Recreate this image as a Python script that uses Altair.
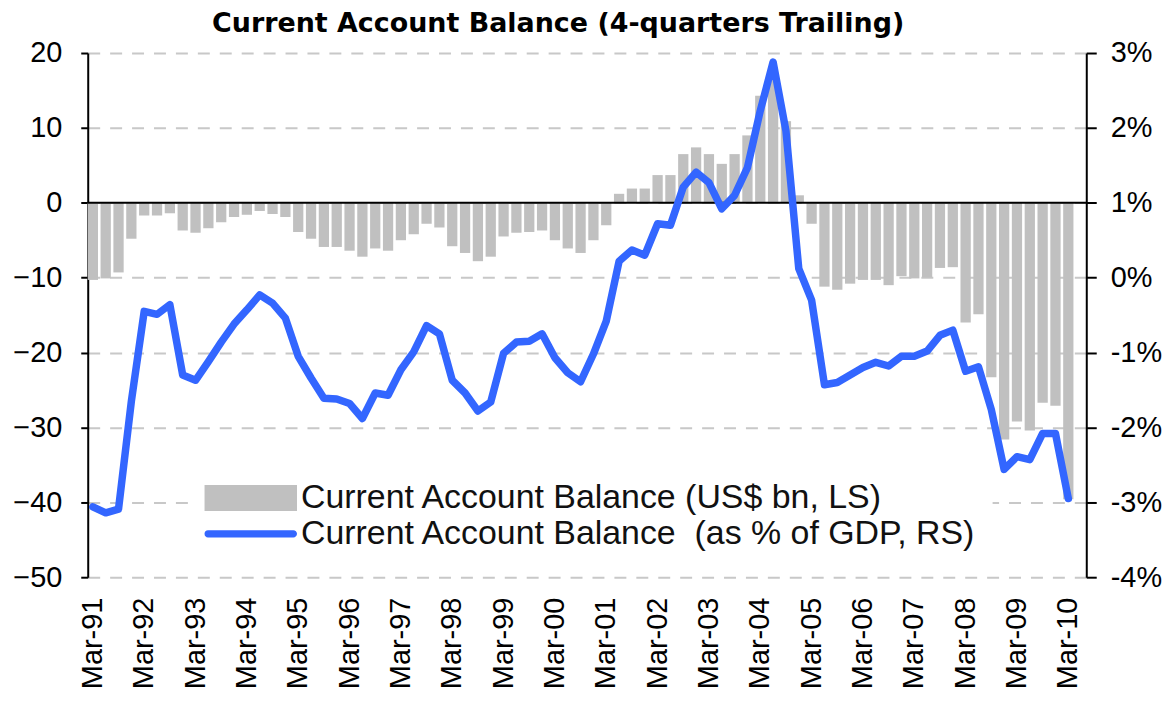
import altair as alt
import pandas as pd

# ---- categories -------------------------------------------------------
months = ["Mar", "Jun", "Sep", "Dec"]
years = ["91", "92", "93", "94", "95", "96", "97", "98", "99", "00",
         "01", "02", "03", "04", "05", "06", "07", "08", "09", "10"]
quarters = [f"{m}-{y}" for y in years for m in months][:77]   # Mar-91 .. Mar-10
x_domain = quarters + ["Jun-10"]                                 # empty slot at the end
tick_labels = quarters[::4]                                      # Mar-91 .. Mar-10

# ---- series -----------------------------------------------------------
ca_bn = [-10.3, -10.1, -9.3, -4.8, -1.7, -1.7, -1.4, -3.7, -4.0, -3.4,
         -2.6, -1.9, -1.6, -1.1, -1.5, -1.9, -3.9, -4.8, -5.9, -5.9,
         -6.4, -7.2, -6.1, -6.4, -5.0, -4.2, -2.8, -3.3, -5.8, -6.7,
         -7.8, -7.2, -4.5, -4.0, -3.9, -3.7, -5.0, -6.1, -6.7, -5.0,
         -3.0, 1.2, 1.9, 1.9, 3.7, 3.7, 6.5, 7.4, 6.5, 5.2,
         6.5, 9.0, 14.3, 17.0, 10.9, 1.0, -2.8, -11.2, -11.6, -10.8,
         -10.3, -10.3, -11.0, -9.8, -10.1, -10.0, -8.7, -8.6, -16.0, -14.9,
         -23.3, -31.6, -29.2, -30.4, -26.7, -27.1, -39.6]

ca_pct = [-3.06, -3.14, -3.09, -1.65, -0.45, -0.49, -0.36, -1.30, -1.37, -1.12,
          -0.86, -0.62, -0.43, -0.23, -0.34, -0.54, -1.05, -1.34, -1.61, -1.62,
          -1.68, -1.88, -1.54, -1.57, -1.23, -0.99, -0.64, -0.75, -1.37, -1.54,
          -1.78, -1.66, -1.01, -0.86, -0.85, -0.75, -1.07, -1.27, -1.39, -1.02,
          -0.58, 0.22, 0.37, 0.30, 0.72, 0.70, 1.21, 1.41, 1.27, 0.92,
          1.10, 1.47, 2.23, 2.88, 1.96, 0.12, -0.30, -1.43, -1.40, -1.30,
          -1.20, -1.13, -1.18, -1.05, -1.05, -0.98, -0.77, -0.70, -1.25, -1.19,
          -1.76, -2.56, -2.39, -2.43, -2.08, -2.08, -2.95]

left_ticks = [-50, -40, -30, -20, -10, 0, 10, 20]
right_ticks = [-4, -3, -2, -1, 0, 1, 2, 3]

series_names = ["Current Account Balance (US$ bn, LS)",
                "Current Account Balance \u00a0(as % of GDP, RS)"]

chart_title = "Current Account Balance (4-quarters Trailing)"

BAR_GRAY = "#C0C0C0"
LINE_BLUE = "#3366FF"
FONT = "Liberation Sans"

df = pd.DataFrame({"quarter": quarters, "bn": ca_bn, "pct": ca_pct})
legend_df = pd.DataFrame({"series": series_names})
zero_df = pd.DataFrame({"v": [0]})

x_enc = alt.X(
    "quarter:N", sort=None, title=None,
    scale=alt.Scale(domain=x_domain, paddingInner=0.2, paddingOuter=0),
    axis=alt.Axis(values=tick_labels, labelAngle=-90, labelFont=FONT,
                  labelFontSize=29, labelColor="#000", labelPadding=20,
                  domain=False, ticks=False, grid=False),
)

left_axis = alt.Axis(values=left_ticks, orient="left", grid=True,
                     gridColor="#C8C8C8", gridWidth=2, gridDash=[12, 10],
                     domainColor="#000", domainWidth=2, tickColor="#000",
                     tickWidth=2, tickSize=7, labelFont=FONT, labelFontSize=29,
                     labelColor="#000", labelPadding=19)

right_axis = alt.Axis(values=right_ticks, orient="right", grid=False,
                      labelExpr="datum.value + '%'",
                      domainColor="#000", domainWidth=2, tickColor="#000",
                      tickWidth=2, tickSize=10, labelFont=FONT, labelFontSize=29,
                      labelColor="#000", labelPadding=14)

bars = alt.Chart(df).mark_bar(color=BAR_GRAY).encode(
    x=x_enc,
    y=alt.Y("bn:Q", title=None, axis=left_axis,
            scale=alt.Scale(domain=[-50, 20], nice=False)),
)

zero_rule = alt.Chart(zero_df).mark_rule(color="#000", strokeWidth=2).encode(
    y=alt.Y("v:Q")
)

left = alt.layer(bars, zero_rule)

line = alt.Chart(df).mark_line(color=LINE_BLUE, strokeWidth=7.5,
                               strokeCap="round", strokeJoin="round").encode(
    x=x_enc,
    y=alt.Y("pct:Q", title=None, axis=right_axis,
            scale=alt.Scale(domain=[-4, 3], nice=False)),
)

rect_path = "M-1,-0.28H1V0.28H-1Z"
pill_path = ("M-0.92,-0.08H0.92A0.08,0.08,0,0,1,0.92,0.08"
             "H-0.92A0.08,0.08,0,0,1,-0.92,-0.08Z")

leg = dict(title=None, orient="none", legendX=101, legendY=413,
           fillColor="white", padding=16, clipHeight=35, rowPadding=1,
           symbolSize=8649, symbolOpacity=1, symbolStrokeWidth=0,
           labelFont=FONT, labelFontSize=34, labelColor="#111",
           labelOffset=4, labelLimit=1000)

legend_points = alt.Chart(legend_df).mark_point(filled=True, opacity=0).encode(
    color=alt.Color("series:N", sort=series_names,
                    scale=alt.Scale(domain=series_names, range=[BAR_GRAY, LINE_BLUE]),
                    legend=alt.Legend(**leg)),
    shape=alt.Shape("series:N", sort=series_names,
                    scale=alt.Scale(domain=series_names, range=[rect_path, pill_path]),
                    legend=alt.Legend(**leg)),
)

chart = alt.layer(left, line, legend_points).resolve_scale(
    y="independent"
).properties(
    width=1002,
    height=526,
    padding={"left": 80, "top": 44, "right": 80, "bottom": 110},
    autosize=alt.AutoSizeParams(type="none"),
    title=alt.TitleParams(
        text=chart_title,
        font="DejaVu Sans", fontSize=27, fontWeight="bold", color="#000",
        anchor="middle", dx=-29, offset=1,
    ),
).configure_view(strokeWidth=0)

chart.save("out.html", embed_options={"renderer": "svg", "actions": False})
